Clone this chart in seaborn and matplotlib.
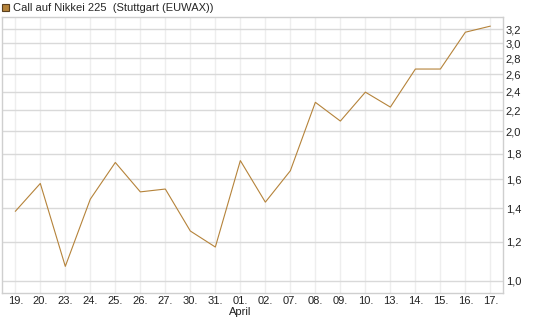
import matplotlib
matplotlib.use("Agg")
import matplotlib.pyplot as plt
import seaborn as sns
import pandas as pd
from matplotlib.patches import Patch
from matplotlib.ticker import FixedLocator, NullLocator

dates = ["19.", "20.", "23.", "24.", "25.", "26.", "27.", "30.", "31.", "01.\nApril",
         "02.", "07.", "08.", "09.", "10.", "13.", "14.", "15.", "16.", "17."]
prices = [1.38, 1.57, 1.07, 1.46, 1.73, 1.51, 1.53, 1.26, 1.17, 1.745,
          1.44, 1.665, 2.285, 2.095, 2.395, 2.235, 2.665, 2.665, 3.16, 3.25]
yticks = [1.0, 1.2, 1.4, 1.6, 1.8, 2.0, 2.2, 2.4, 2.6, 2.8, 3.0, 3.2]

df = pd.DataFrame({"pos": range(len(dates)), "price": prices})

sns.set_style("white")
plt.rcParams["font.family"] = ["Liberation Sans", "DejaVu Sans"]

fig = plt.figure(figsize=(5.45, 3.27), dpi=100)
ax = fig.add_axes([0.0042, 0.104, 0.919, 0.844])

sns.lineplot(data=df, x="pos", y="price", ax=ax, color="#b5833a", linewidth=0.8)

ax.set_yscale("log")
ax.set_ylim(0.946, 3.39)
ax.set_xlim(-0.52, 19.51)

ax.yaxis.set_major_locator(FixedLocator(yticks))
ax.yaxis.set_minor_locator(NullLocator())
ax.set_yticklabels([f"{t:.1f}".replace(".", ",") for t in yticks])
ax.yaxis.tick_right()
ax.set_xticks(range(len(dates)))
ax.set_xticklabels(dates)

ax.tick_params(axis="both", length=0, labelsize=8, colors="#222222")
ax.tick_params(axis="y", pad=2)
ax.tick_params(axis="x", pad=2)
ax.set_xlabel("")
ax.set_ylabel("")

ax.grid(axis="y", color="#d9d9d9", linewidth=1)
ax.grid(axis="x", color="#eeeeee", linewidth=1)
ax.set_axisbelow(True)
for s in ax.spines.values():
    s.set_visible(True)
    s.set_color("#cfcfcf")
    s.set_linewidth(1)

fig.legend(handles=[Patch(facecolor="#b5833a", edgecolor="#5a4020", linewidth=0.8)],
           labels=["Call auf Nikkei 225  (Stuttgart (EUWAX))"],
           loc="upper left", bbox_to_anchor=(-0.014, 1.02), frameon=False,
           handlelength=0.6, handleheight=0.6, handletextpad=0.35,
           fontsize=8)

fig.savefig("out.png", dpi=100)
